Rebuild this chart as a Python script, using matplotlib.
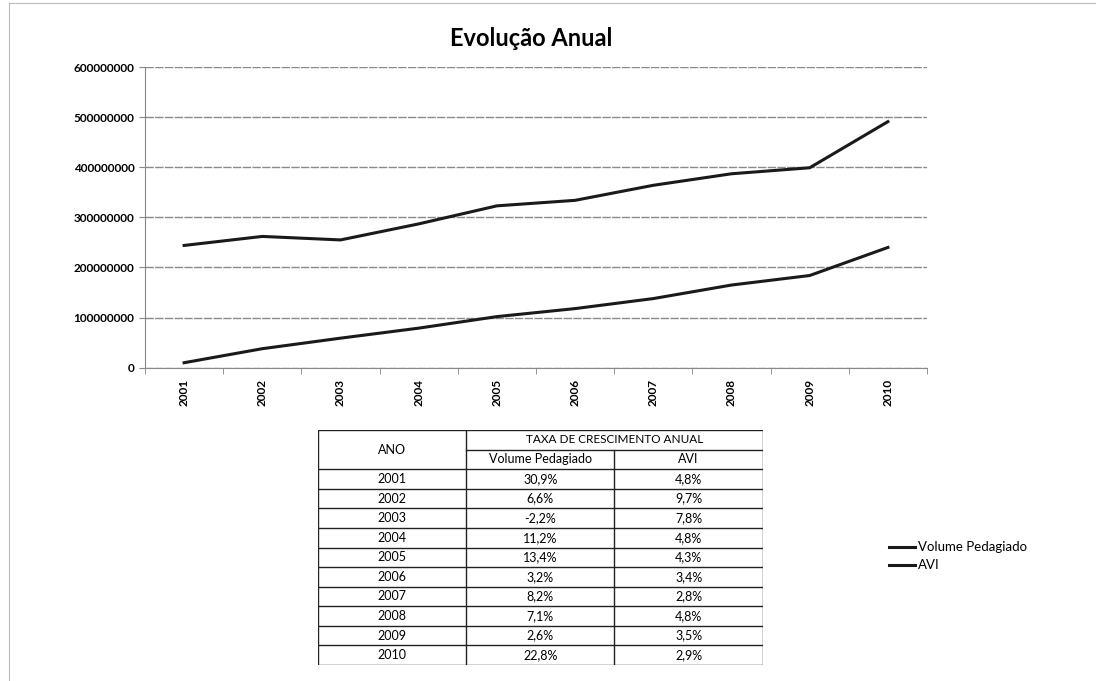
import matplotlib.pyplot as plt
from matplotlib.lines import Line2D

# Dados do gráfico
anos = ['2001', '2002', '2003', '2004', '2005', '2006', '2007', '2008', '2009', '2010']
volume_pedagiado = [244e6, 262e6, 255e6, 287e6, 323e6, 334e6, 364e6, 387e6, 399e6, 491e6]
avi = [10e6, 38e6, 59e6, 79e6, 102e6, 118e6, 138e6, 165e6, 184e6, 240e6]

# Dados da tabela
taxa_volume = ['30,9%', '6,6%', '-2,2%', '11,2%', '13,4%', '3,2%', '8,2%', '7,1%', '2,6%', '22,8%']
taxa_avi = ['4,8%', '9,7%', '7,8%', '4,8%', '4,3%', '3,4%', '2,8%', '4,8%', '3,5%', '2,9%']

plt.rcParams['font.family'] = ['Lato', 'DejaVu Sans']

fig = plt.figure(figsize=(10.96, 6.81), dpi=100)

# Moldura da página digitalizada
fig.add_artist(Line2D([0.008, 0.008], [0.0, 0.995], color='#bbbbbb', lw=0.8))
fig.add_artist(Line2D([0.008, 1.0], [0.995, 0.995], color='#bbbbbb', lw=0.8))

# Gráfico de linhas
ax = fig.add_axes([0.1323, 0.46, 0.7135, 0.4416])
x = list(range(len(anos)))
ax.plot(x, volume_pedagiado, color='#1a1a1a', lw=2.2, label='Volume Pedagiado')
ax.plot(x, avi, color='#1a1a1a', lw=2.2, label='AVI')

ax.set_xlim(-0.5, len(anos) - 0.5)
ax.set_ylim(0, 600e6)
ax.set_yticks([0, 100e6, 200e6, 300e6, 400e6, 500e6, 600e6])
ax.set_yticklabels(['0', '100000000', '200000000', '300000000', '400000000', '500000000', '600000000'],
                   fontsize=8.5, fontweight='bold')
ax.set_xticks(x)
ax.set_xticklabels(anos, rotation=90, fontsize=8.5, fontweight='bold')
ax.set_xticks([i - 0.5 for i in range(len(anos) + 1)], minor=True)
ax.tick_params(axis='x', which='major', length=0, pad=8)
ax.tick_params(axis='x', which='minor', length=4, color='#888888')
ax.tick_params(axis='y', length=4, color='#888888')
ax.grid(axis='y', color='#8a8a8a', lw=1.0, linestyle=(0, (6, 1)))
ax.set_axisbelow(True)
for lado in ['top', 'right']:
    ax.spines[lado].set_visible(False)
ax.spines['left'].set_color('#888888')
ax.spines['bottom'].set_color('#888888')

fig.text(0.485, 0.944, 'Evolução Anual', ha='center', va='center', fontsize=17, fontweight='bold')

# Legenda
fig.legend(loc='center left', bbox_to_anchor=(0.80, 0.183), frameon=False, fontsize=9.5,
           handlelength=2.0, handletextpad=0.2, labelspacing=0.45)

# Tabela
tab = fig.add_axes([0.290, 0.0235, 0.406, 0.345])
tab.set_xlim(0, 3)
tab.set_ylim(12, 0)
tab.axis('off')
cor = '#222222'
tab.plot([0, 0], [0, 12], color=cor, lw=1)
tab.plot([1, 1], [0, 12], color=cor, lw=1)
tab.plot([2, 2], [1, 12], color=cor, lw=1)
tab.plot([3, 3], [0, 12], color=cor, lw=1)
tab.plot([0, 3], [0, 0], color=cor, lw=1)
tab.plot([1, 3], [1, 1], color=cor, lw=1)
for i in range(2, 13):
    tab.plot([0, 3], [i, i], color=cor, lw=1)

tab.text(0.5, 1.0, 'ANO', ha='center', va='center', fontsize=9)
tab.text(2.0, 0.5, 'TAXA DE CRESCIMENTO ANUAL', ha='center', va='center', fontsize=8.5)
tab.text(1.5, 1.5, 'Volume Pedagiado', ha='center', va='center', fontsize=9)
tab.text(2.5, 1.5, 'AVI', ha='center', va='center', fontsize=9)
for i, ano in enumerate(anos):
    y = i + 2.5
    tab.text(0.5, y, ano, ha='center', va='center', fontsize=9)
    tab.text(1.5, y, taxa_volume[i], ha='center', va='center', fontsize=9)
    tab.text(2.5, y, taxa_avi[i], ha='center', va='center', fontsize=9)

plt.savefig('out.png', dpi=100)
plt.close()
